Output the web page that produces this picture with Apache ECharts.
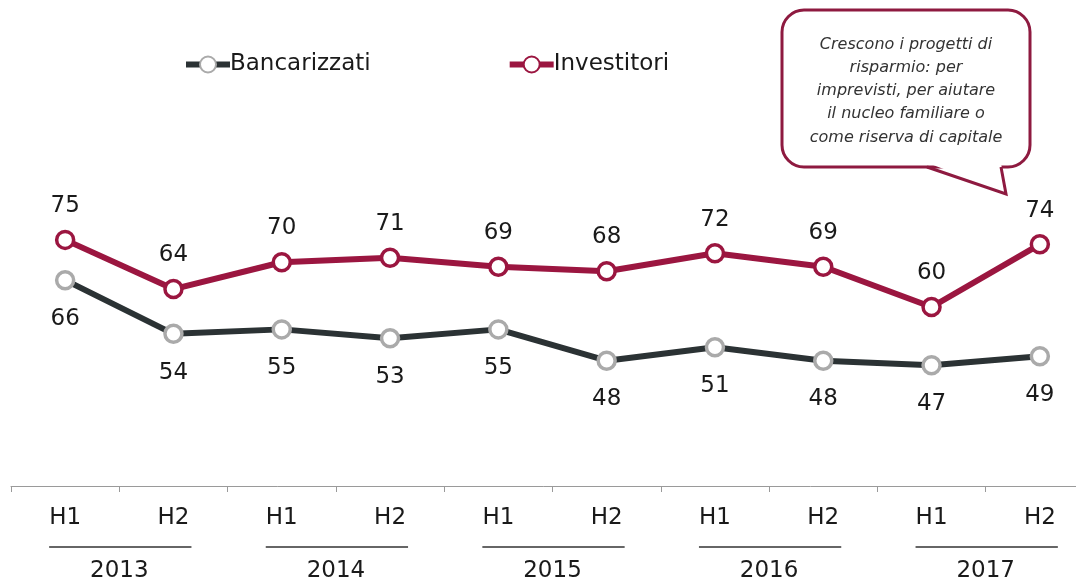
<!DOCTYPE html>
<html>
<head>
<meta charset="utf-8">
<style>
  html, body { margin: 0; padding: 0; background: #fff; }
  #chart { width: 1076px; height: 584px; }
</style>
<script src="https://cdn.jsdelivr.net/npm/echarts@6/dist/echarts.min.js"></script>
</head>
<body>
<div id="chart"></div>
<script>
// dati
var halves = ["H1", "H2", "H1", "H2", "H1", "H2", "H1", "H2", "H1", "H2"];
var years = ["2013", "2014", "2015", "2016", "2017"];
var bancarizzati = [66, 54, 55, 53, 55, 48, 51, 48, 47, 49];
var investitori = [75, 64, 70, 71, 69, 68, 72, 69, 60, 74];
var noteLines = [
  "Crescono i progetti di",
  "risparmio: per",
  "imprevisti, per aiutare",
  "il nucleo familiare o",
  "come riserva di capitale"
];

var FONT = "DejaVu Sans";
var RED = "#9b1640";
var DARK = "#2b3234";
var BUBBLE = "#8e1a40";

var chart = echarts.init(document.getElementById("chart"));

var option = {
  animation: false,
  textStyle: { fontFamily: FONT },
  legend: {
    left: 178,
    top: 48,
    itemWidth: 44,
    itemHeight: 20,
    itemGap: 136,
    textStyle: { fontSize: 23, color: "#1a1a1a", fontFamily: FONT, padding: [0, 0, 0, -5] },
    data: [
      { name: "Bancarizzati", lineStyle: { width: 6 } },
      { name: "Investitori", lineStyle: { width: 6 } }
    ]
  },
  grid: {
    left: 11,
    width: 1083,
    top: 128,
    height: 358,
    containLabel: false,
    outerBoundsMode: "none"
  },
  xAxis: [{
    type: "category",
    data: halves,
    boundaryGap: true,
    axisLine: { lineStyle: { color: "#9a9a9a", width: 1 } },
    axisTick: { show: true, length: 6, lineStyle: { color: "#9a9a9a" } },
    axisLabel: { fontSize: 23, color: "#1a1a1a", margin: 21, interval: 0 }
  }, {
    type: "category",
    data: years,
    position: "bottom",
    boundaryGap: true,
    axisLine: { show: false },
    axisTick: { show: false },
    axisLabel: { fontSize: 23, color: "#1a1a1a", margin: 74, interval: 0 }
  }],
  yAxis: {
    type: "value",
    min: 20,
    max: 100,
    show: false,
    splitLine: { show: false }
  },
  series: [{
    name: "Bancarizzati",
    type: "line",
    data: bancarizzati,
    symbol: "circle",
    symbolSize: 17,
    lineStyle: { color: DARK, width: 6 },
    itemStyle: { color: "#fff", borderColor: "#aaaaaa", borderWidth: 3.5 },
    label: { show: true, position: "bottom", distance: 17, fontSize: 23, color: "#1a1a1a" }
  }, {
    name: "Investitori",
    type: "line",
    data: investitori,
    symbol: "circle",
    symbolSize: 17,
    lineStyle: { color: RED, width: 6 },
    itemStyle: { color: "#fff", borderColor: RED, borderWidth: 3.5 },
    label: { show: true, position: "top", distance: 12, fontSize: 23, color: "#1a1a1a" }
  }]
};

chart.setOption(option);

// linee sotto H1/H2 di ogni anno, posizionate con la scala dell'asse
var graphics = [];
for (var i = 0; i < years.length; i++) {
  var xa = chart.convertToPixel({ xAxisIndex: 0 }, 2 * i);
  var xb = chart.convertToPixel({ xAxisIndex: 0 }, 2 * i + 1);
  graphics.push({
    type: "line",
    shape: { x1: xa - 16, y1: 547, x2: xb + 18, y2: 547 },
    style: { stroke: "#333", lineWidth: 1.5 }
  });
}

// fumetto di commento
graphics.push({
  type: "rect",
  shape: { x: 782, y: 10, width: 248, height: 157, r: 22 },
  style: { fill: "#fff", stroke: BUBBLE, lineWidth: 3 }
});
graphics.push({
  type: "polygon",
  shape: { points: [[928, 163], [1006, 193], [1001, 163]] },
  style: { fill: "#fff", stroke: null }
});
graphics.push({
  type: "polyline",
  shape: { points: [[927, 167], [1006, 194], [1001, 167]] },
  style: { fill: null, stroke: BUBBLE, lineWidth: 3, lineJoin: "miter" }
});
graphics.push({
  type: "text",
  x: 906,
  y: 33,
  style: {
    text: noteLines.join("\n"),
    align: "center",
    verticalAlign: "top",
    font: "italic 16px " + FONT,
    fill: "#333",
    lineHeight: 23.2
  }
});

chart.setOption({ graphic: graphics });
</script>
</body>
</html>
